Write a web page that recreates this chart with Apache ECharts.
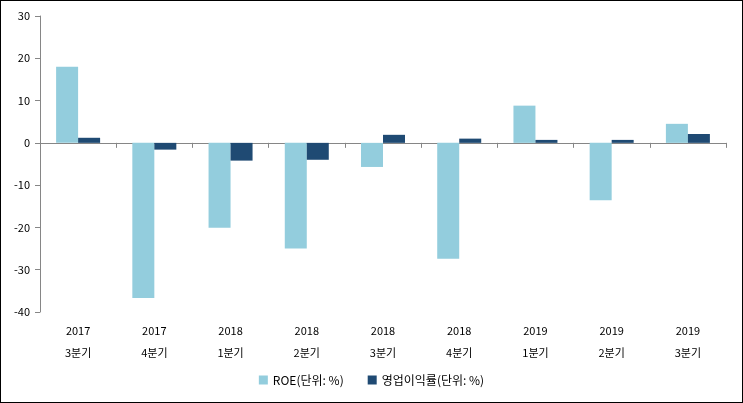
<!DOCTYPE html>
<html><head><meta charset="utf-8">
<script src="https://cdn.jsdelivr.net/npm/echarts@6/dist/echarts.min.js"></script>
<style>html,body{margin:0;padding:0;background:#fff}#c{width:743px;height:403px;box-sizing:border-box;border:1px solid #000}</style>
</head><body><div id="c"></div>
<script>
const categories = ['2017\n3분기','2017\n4분기','2018\n1분기','2018\n2분기','2018\n3분기','2018\n4분기','2019\n1분기','2019\n2분기','2019\n3분기'];
const roe = [18.0, -36.7, -20.1, -25.0, -5.7, -27.4, 8.8, -13.6, 4.5];
const opMargin = [1.2, -1.6, -4.2, -4.0, 1.9, 1.0, 0.7, 0.7, 2.1];
const seriesNames = ['ROE(단위: %)', '영업이익률(단위: %)'];
const font = '"Noto Sans CJK KR", "DejaVu Sans", sans-serif';
const chart = echarts.init(document.getElementById('c'));
chart.setOption({
  animation: false,
  textStyle: {fontFamily: font},
  grid: {left: 39, right: 16, top: 15, bottom: 90, containLabel: false},
  legend: {bottom: 11, left: 'center', itemWidth: 9, itemHeight: 9, itemGap: 24, icon: 'rect',
    textStyle: {fontSize: 12, color: '#000', fontFamily: font}, data: seriesNames},
  xAxis: [
    {type: 'category', data: categories, axisLine: {onZero: true, lineStyle: {color: '#868686', width: 1}},
     axisTick: {show: true, length: 5, lineStyle: {color: '#868686'}}, axisLabel: {show: false}, splitLine: {show: false}},
    {type: 'category', data: categories, position: 'bottom', axisLine: {show: false, onZero: false}, axisTick: {show: false},
     axisLabel: {show: true, color: '#000', fontSize: 11, lineHeight: 22, margin: 8, fontFamily: font}}
  ],
  yAxis: {type: 'value', min: -40, max: 30, interval: 10,
    axisLine: {show: true, lineStyle: {color: '#868686'}}, axisTick: {show: true, length: 5, lineStyle: {color: '#868686'}},
    splitLine: {show: false}, axisLabel: {color: '#000', fontSize: 11, margin: 10, fontFamily: font}},
  series: [
    {name: seriesNames[0], type: 'bar', xAxisIndex: 0, data: roe, barWidth: 22, barGap: '0%', itemStyle: {color: '#93CDDD'}},
    {name: seriesNames[1], type: 'bar', xAxisIndex: 0, data: opMargin, barWidth: 22, barGap: '0%', itemStyle: {color: '#1F4A73'}}
  ]
});
</script></body></html>
